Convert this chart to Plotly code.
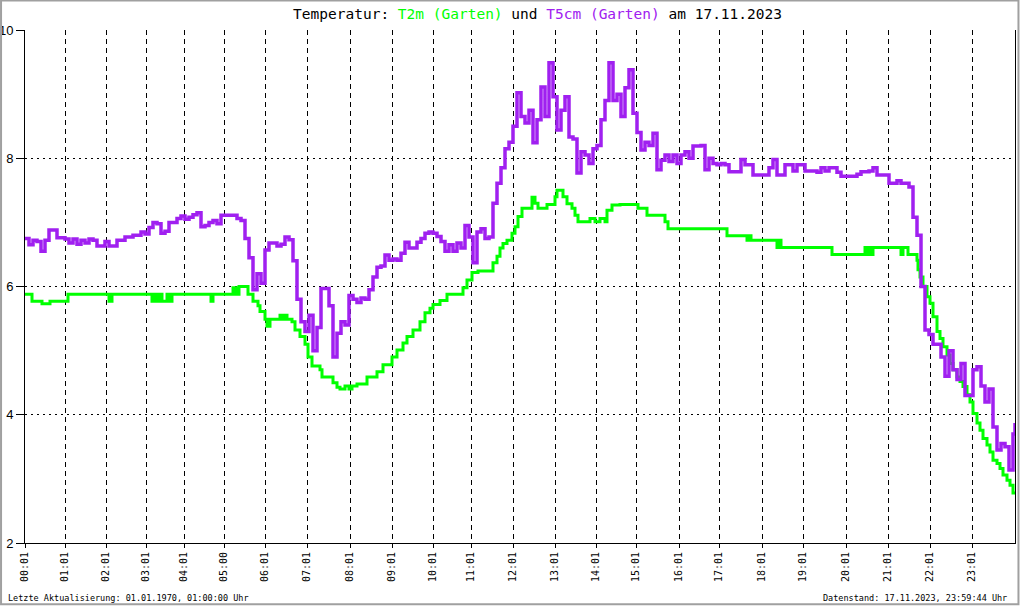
import plotly.graph_objects as go

# Messwert-Nr. des ersten Wertes jeder Stunde (x-Achse ist der Messindex)
HOUR_IDX = [0, 40, 81, 121, 159, 199, 240, 282, 325, 367, 408, 446,
            488, 530, 571, 611, 654, 694, 737, 778, 821, 863, 905, 947]
HOUR_LBL = ["00:01", "01:01", "02:01", "03:01", "04:01", "05:00", "06:01", "07:01",
            "08:01", "09:01", "10:01", "11:01", "12:01", "13:01", "14:01", "15:01",
            "16:01", "17:01", "18:01", "19:01", "20:01", "21:01", "22:01", "23:01"]

# T2m (Garten): Messindex und Wert bei jeder Aenderung
T2M_IDX = [0, 7, 17, 25, 43, 84, 87, 127, 130, 133, 135, 137, 142, 144, 147,
           186, 188, 208, 211, 214, 223, 228, 233, 235, 240, 242, 245, 255, 257,
           260, 262, 267, 270, 275, 280, 283, 287, 295, 297, 308, 312, 315, 320,
           324, 327, 332, 342, 352, 358, 367, 372, 378, 382, 388, 395, 400, 405,
           408, 415, 422, 438, 442, 447, 453, 468, 472, 475, 478, 482, 487, 490,
           493, 497, 507, 510, 513, 522, 530, 532, 538, 542, 547, 550, 553, 565,
           570, 575, 580, 582, 587, 595, 613, 622, 640, 643, 702, 722, 724, 726,
           752, 754, 756, 807, 840, 842, 844, 846, 848, 876, 878, 883, 892, 893,
           895, 898, 902, 905, 908, 912, 915, 918, 922, 925, 928, 932, 935, 938,
           942, 945, 948, 952, 955, 958, 962, 965, 968, 972, 975, 978, 982, 985,
           988, 990]
T2M_VAL = [5.88, 5.77, 5.73, 5.77, 5.88, 5.77, 5.88, 5.77, 5.88, 5.77, 5.88,
           5.77, 5.88, 5.77, 5.88, 5.77, 5.88, 5.98, 5.88, 6.00, 5.88, 5.77,
           5.70, 5.61, 5.49, 5.38, 5.49, 5.55, 5.49, 5.55, 5.49, 5.45, 5.32,
           5.22, 5.10, 4.90, 4.76, 4.70, 4.59, 4.50, 4.43, 4.40, 4.45, 4.40,
           4.45, 4.48, 4.59, 4.67, 4.78, 4.90, 5.01, 5.12, 5.22, 5.32, 5.45,
           5.59, 5.66, 5.72, 5.78, 5.88, 5.98, 6.10, 6.22, 6.24, 6.37, 6.47,
           6.60, 6.67, 6.72, 6.83, 6.93, 7.09, 7.22, 7.39, 7.30, 7.22, 7.28,
           7.40, 7.50, 7.40, 7.29, 7.22, 7.11, 7.01, 7.06, 7.01, 7.06, 7.01,
           7.19, 7.27, 7.28, 7.22, 7.11, 7.01, 6.90, 6.79, 6.72, 6.79, 6.72,
           6.61, 6.72, 6.61, 6.50, 6.61, 6.50, 6.61, 6.50, 6.61, 6.50, 6.61,
           6.50, 6.41, 6.26, 6.15, 6.00, 5.84, 5.74, 5.53, 5.30, 5.19, 5.06,
           4.93, 4.80, 4.70, 4.59, 4.52, 4.44, 4.31, 4.20, 4.02, 3.87, 3.76,
           3.63, 3.53, 3.42, 3.29, 3.24, 3.16, 3.06, 2.98, 2.90, 2.78, 2.78]

# T5cm (Garten): jeder 4. Messwert
T5CM_STEP = 4
T5CM_VAL = [
    6.75, 6.65, 6.72, 6.70, 6.55, 6.72, 6.88, 6.88, 6.76, 6.76,
    6.74, 6.68, 6.74, 6.66, 6.72, 6.68, 6.74, 6.72, 6.63, 6.63,
    6.70, 6.63, 6.63, 6.72, 6.72, 6.77, 6.77, 6.80, 6.80, 6.85,
    6.82, 6.92, 7.00, 6.98, 6.83, 6.86, 7.00, 7.00, 7.06, 7.10,
    7.05, 7.08, 7.12, 7.15, 6.93, 6.95, 7.00, 7.03, 6.98, 7.11,
    7.11, 7.11, 7.11, 7.06, 7.03, 6.75, 6.45, 5.95, 6.20, 6.05,
    6.57, 6.68, 6.68, 6.63, 6.66, 6.77, 6.73, 6.40, 5.80, 5.45,
    5.30, 5.55, 5.00, 5.36, 5.97, 5.97, 5.70, 4.90, 5.27, 5.45,
    5.40, 5.86, 5.80, 5.75, 5.82, 5.80, 5.95, 6.15, 6.30, 6.32,
    6.49, 6.41, 6.43, 6.41, 6.52, 6.69, 6.60, 6.60, 6.69, 6.75,
    6.83, 6.85, 6.83, 6.78, 6.70, 6.55, 6.65, 6.55, 6.68, 6.60,
    6.95, 6.77, 6.37, 6.85, 6.90, 6.75, 6.77, 7.30, 7.61, 7.85,
    8.15, 8.25, 8.50, 9.02, 8.65, 8.55, 8.75, 8.24, 8.60, 9.11,
    8.65, 9.49, 8.96, 8.44, 8.75, 8.96, 8.33, 8.30, 7.77, 8.10,
    8.05, 7.92, 8.15, 8.20, 8.60, 8.90, 9.49, 8.90, 9.00, 8.65,
    9.10, 9.38, 8.70, 8.40, 8.13, 8.25, 8.20, 8.39, 7.82, 7.97,
    8.05, 7.95, 8.05, 7.92, 8.05, 8.10, 8.00, 8.19, 8.19, 8.20,
    7.82, 8.00, 7.92, 7.90, 7.92, 7.90, 7.79, 7.79, 7.79, 7.98,
    7.90, 7.90, 7.74, 7.74, 7.74, 7.74, 7.85, 7.98, 7.74, 7.74,
    7.90, 7.90, 7.80, 7.90, 7.90, 7.80, 7.80, 7.80, 7.78, 7.85,
    7.80, 7.85, 7.85, 7.78, 7.72, 7.72, 7.72, 7.72, 7.75, 7.79,
    7.79, 7.80, 7.85, 7.74, 7.74, 7.74, 7.61, 7.61, 7.65, 7.61,
    7.61, 7.55, 7.08, 6.80, 6.00, 5.32, 5.25, 5.10, 5.10, 4.90,
    4.60, 5.00, 4.70, 4.55, 4.80, 4.30, 4.30, 4.70, 4.75, 4.45,
    4.20, 4.40, 3.81, 3.45, 3.55, 3.50, 3.14, 3.70, 3.87,
]
T5CM_IDX = [min(i * T5CM_STEP, 990) for i in range(len(T5CM_VAL))]

Y_TICKS = [2, 4, 6, 8, 10]

GREEN = "#00ff00"
PURPLE = "#a020f0"
MONO = "DejaVu Sans Mono"

fig = go.Figure()

fig.add_trace(go.Scatter(x=T2M_IDX, y=T2M_VAL, mode="lines", line_shape="hv",
                         line={"color": GREEN, "width": 3}, name="T2m (Garten)"))
fig.add_trace(go.Scatter(x=T5CM_IDX, y=T5CM_VAL, mode="lines", line_shape="hv",
                         line={"color": PURPLE, "width": 3.5}, name="T5cm (Garten)"))

title = ("Temperatur: <span style='color:%s'>T2m (Garten)</span> und "
         "<span style='color:%s'>T5cm (Garten)</span> am 17.11.2023" % (GREEN, PURPLE))

fig.update_layout(
    width=1020, height=606,
    margin={"l": 25, "r": 5, "t": 30, "b": 63, "autoexpand": False},
    paper_bgcolor="white", plot_bgcolor="white",
    showlegend=False, hovermode=False,
    title={"text": title, "x": 0.527, "xanchor": "center", "y": 0.977, "yanchor": "middle",
           "font": {"family": MONO, "size": 14.5, "color": "black"}},
    xaxis={"range": [0, 990], "tickvals": HOUR_IDX, "ticktext": HOUR_LBL, "tickangle": -90,
           "automargin": False,
           "ticks": "outside", "ticklen": 4, "tickcolor": "black",
           "tickfont": {"family": MONO, "size": 10, "color": "black"},
           "showline": True, "linecolor": "black", "linewidth": 1,
           "showgrid": True, "gridcolor": "black", "gridwidth": 1, "griddash": "5px,4px",
           "zeroline": False},
    yaxis={"range": [2, 10], "tickvals": Y_TICKS, "ticks": "outside", "ticklen": 8,
           "automargin": False,
           "tickcolor": "black", "tickfont": {"family": "Liberation Sans", "size": 13, "color": "black"},
           "showline": True, "mirror": True, "linecolor": "black", "linewidth": 1,
           "showgrid": True, "gridcolor": "black", "gridwidth": 1, "griddash": "2px,4px",
           "zeroline": False},
    annotations=[
        {"text": "Letzte Aktualisierung: 01.01.1970, 01:00:00 Uhr", "xref": "paper", "yref": "paper",
         "x": -0.019, "y": -0.107, "xanchor": "left", "yanchor": "middle", "showarrow": False,
         "font": {"family": MONO, "size": 8.5, "color": "black"}},
        {"text": "Datenstand: 17.11.2023, 23:59:44 Uhr", "xref": "paper", "yref": "paper",
         "x": 0.9935, "y": -0.107, "xanchor": "right", "yanchor": "middle", "showarrow": False,
         "font": {"family": MONO, "size": 8.5, "color": "black"}},
    ],
    shapes=[
        {"type": "rect", "xref": "paper", "yref": "paper",
         "x0": -0.0242, "x1": 1.0035, "y0": -0.1194, "y1": 1.0575,
         "line": {"color": "#a0a0a0", "width": 2}},
    ],
)

# Seitenrand des Browsers entfernen, damit das Bild genau ins Fenster passt
fig.write_html("out.html", config={"displayModeBar": False},
               post_script="document.body.style.margin='0';"
                           "document.body.style.overflow='hidden';")
